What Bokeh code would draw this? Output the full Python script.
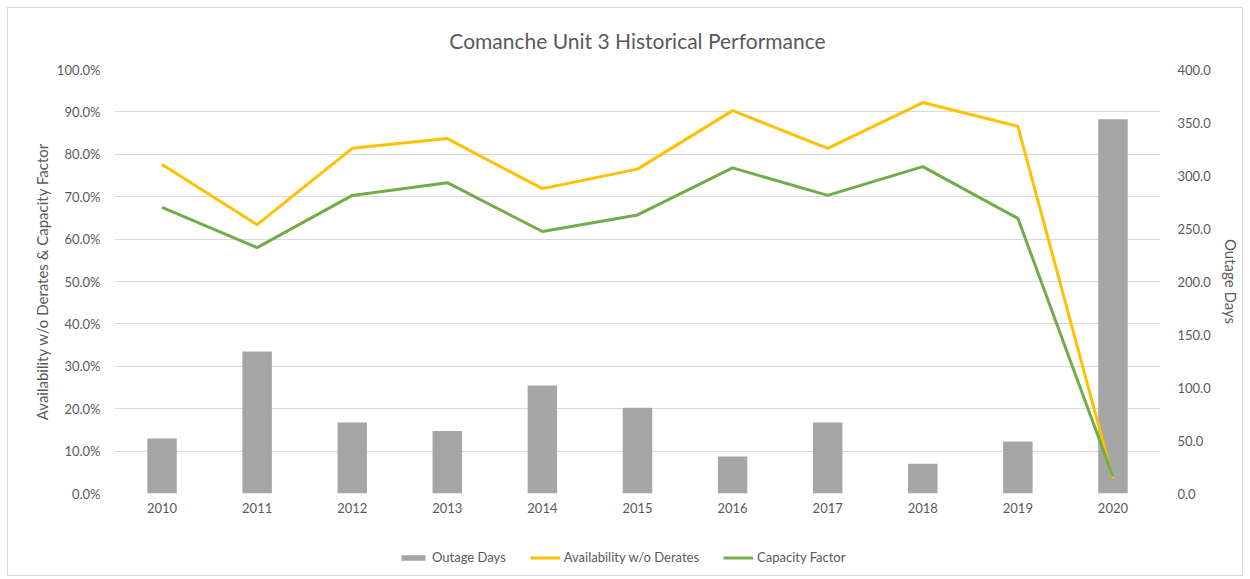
from bokeh.plotting import figure
from bokeh.layouts import column
from bokeh.models import Range1d, FactorRange, LinearAxis, Legend, LegendItem, PrintfTickFormatter, FixedTicker
from bokeh.embed import file_html
from bokeh.resources import INLINE

years = ["2010", "2011", "2012", "2013", "2014", "2015", "2016", "2017", "2018", "2019", "2020"]
outage_days = [52, 134, 67, 59, 102, 81, 35, 67, 28, 49, 353]
availability = [77.6, 63.4, 81.4, 83.7, 71.9, 76.5, 90.3, 81.4, 92.2, 86.6, 3.5]
capacity_factor = [67.5, 58.0, 70.3, 73.3, 61.8, 65.7, 76.8, 70.3, 77.1, 64.9, 4.0]
series_names = ["Outage Days", "Availability w/o Derates", "Capacity Factor"]

FONT = "Lato"
TXT = "#595959"
GRAY, YELLOW, GREEN = "#a5a5a5", "#ffc000", "#70ad47"

p = figure(x_range=years, y_range=Range1d(0, 100), width=1234, height=515,
           output_backend="svg", toolbar_location=None,
           title="Comanche Unit 3 Historical Performance",
           min_border_left=106, min_border_right=79, min_border_top=61, min_border_bottom=30)
p.extra_y_ranges = {"days": Range1d(0, 400)}

p.title.align = "center"
p.title.text_font = FONT
p.title.text_font_size = "21px"
p.title.text_font_style = "normal"
p.title.text_color = TXT
p.title.standoff = 34

p.outline_line_color = None
p.xgrid.grid_line_color = None
p.ygrid.grid_line_color = "#d9d9d9"
p.ygrid.grid_line_width = 1
p.ygrid.ticker = FixedTicker(ticks=list(range(0, 101, 10)))

p.vbar(x=years, top=outage_days, width=0.31, y_range_name="days",
       fill_color=GRAY, line_color=None)
p.line(x=years, y=availability, line_color=YELLOW, line_width=3)
p.line(x=years, y=capacity_factor, line_color=GREEN, line_width=3)

def style_axis(ax):
    ax.axis_line_color = None
    ax.major_tick_line_color = None
    ax.minor_tick_line_color = None
    ax.major_label_text_font = FONT
    ax.major_label_text_font_size = "13px"
    ax.major_label_text_color = TXT
    ax.axis_label_text_font = FONT
    ax.axis_label_text_font_size = "15px"
    ax.axis_label_text_font_style = "normal"
    ax.axis_label_text_color = TXT

yl = p.yaxis[0]
yl.ticker = FixedTicker(ticks=list(range(0, 101, 10)))
yl.formatter = PrintfTickFormatter(format="%.1f%%")
yl.axis_label = "Availability w/o Derates & Capacity Factor"
style_axis(yl)
yl.major_label_standoff = 8
yl.axis_label_standoff = 3

yr = LinearAxis(y_range_name="days", axis_label="Outage Days",
                ticker=FixedTicker(ticks=list(range(0, 401, 50))),
                formatter=PrintfTickFormatter(format="%.1f"))
style_axis(yr)
yr.major_label_standoff = 11
yr.axis_label_standoff = 8
p.add_layout(yr, "right")

xa = p.xaxis[0]
style_axis(xa)
xa.major_label_standoff = 3

# legend strip below the chart: key renderers use the same series, kept outside the strip's view
lf = figure(width=1234, height=52, x_range=FactorRange(factors=years), y_range=Range1d(1000, 1001),
            output_backend="svg", toolbar_location=None, min_border=0,
            x_axis_location=None, y_axis_location=None)
lf.grid.visible = False
lf.outline_line_color = None
kb = lf.vbar(x=years, top=outage_days, width=0.31, fill_color=GRAY, line_color=None)
ky = lf.line(x=years, y=availability, line_color=YELLOW, line_width=3)
kg = lf.line(x=years, y=capacity_factor, line_color=GREEN, line_width=3)
legend = Legend(items=[LegendItem(label=series_names[0], renderers=[kb]),
                       LegendItem(label=series_names[1], renderers=[ky]),
                       LegendItem(label=series_names[2], renderers=[kg])],
                orientation="horizontal", location=(284, 8),
                glyph_width=30, glyph_height=7, label_standoff=4, spacing=24,
                padding=0, margin=0, border_line_color=None, background_fill_alpha=0,
                inactive_fill_alpha=0,
                label_text_font=FONT, label_text_font_size="13px", label_text_color=TXT,
                label_height=20)
lf.add_layout(legend)

lay = column(p, lf, spacing=0)
lay.styles = {"border": "1px solid #d9d9d9", "margin": "7px 0 0 7px"}

open("out.html", "w").write(file_html(lay, INLINE))
